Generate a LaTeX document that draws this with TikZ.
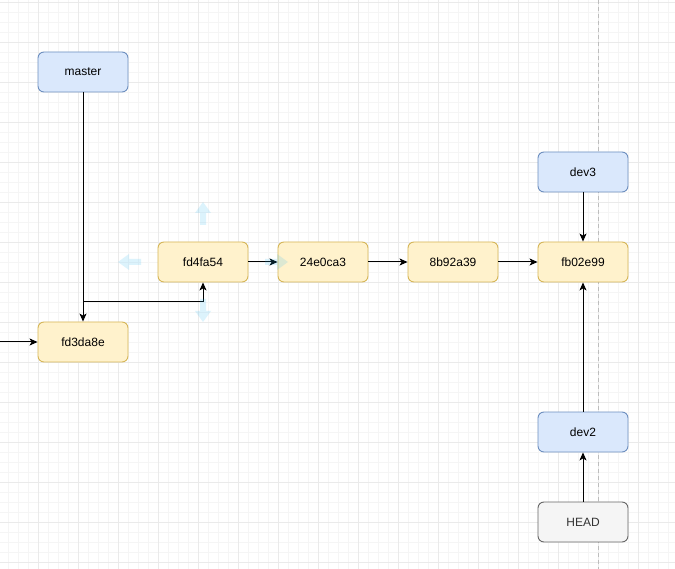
\documentclass[tikz,border=0pt]{standalone}
\usepackage{fontspec}
\setmainfont{Liberation Sans}
\usetikzlibrary{arrows.meta}
\definecolor{yfill}{HTML}{FFF2CC}
\definecolor{ydraw}{HTML}{D6B656}
\definecolor{bfill}{HTML}{DAE8FC}
\definecolor{bdraw}{HTML}{6C8EBF}
\definecolor{gfill}{HTML}{F5F5F5}
\definecolor{gdraw}{HTML}{666666}
\definecolor{gtext}{HTML}{333333}
\definecolor{minorc}{HTML}{F5F5F5}
\definecolor{majorc}{HTML}{EAEAEA}
\definecolor{hoverc}{HTML}{29B6F2}
\definecolor{dashc}{HTML}{BDBDBD}
\tikzset{
  box/.style={rounded corners=6pt, minimum width=90pt, minimum height=40pt, inner sep=0pt, line width=0.9pt, font=\fontsize{12}{14}\selectfont},
  commit/.style={box, fill=yfill, draw=ydraw},
  branch/.style={box, fill=bfill, draw=bdraw},
  headbox/.style={box, fill=gfill, draw=gdraw, text=gtext},
  edge/.style={line width=1pt, -{Stealth[length=8pt,width=7pt,inset=2pt]}},
  minorgrid/.style={minorc, line width=0.8pt},
  majorgrid/.style={majorc, line width=0.8pt},
  hover/.style={fill=hoverc, fill opacity=0.16}
}
\begin{document}
\begin{tikzpicture}[x=1pt,y=-1pt]
\useasboundingbox (0,0) rectangle (675,569);
\fill[white] (0,0) rectangle (675,569);
\foreach \x in {8,18,...,668} \draw[minorgrid] (\x,0) -- (\x,569);
\foreach \y in {2,12,...,562} \draw[minorgrid] (0,\y) -- (675,\y);
\foreach \x in {38,78,...,638} \draw[majorgrid] (\x,0) -- (\x,569);
\foreach \y in {2,42,...,562} \draw[majorgrid] (0,\y) -- (675,\y);
\draw[dashc, line width=0.9pt, dash pattern=on 4pt off 3pt] (598,0) -- (598,569);

\node[branch] (master) at (83,72) {master};
\node[commit] (fd3) at (83,342) {fd3da8e};
\node[commit] (fd4) at (203,262) {fd4fa54};
\node[commit] (c24) at (323,262) {24e0ca3};
\node[commit] (c8b) at (453,262) {8b92a39};
\node[commit] (fb0) at (583,262) {fb02e99};
\node[branch] (dev3) at (583,172) {dev3};
\node[branch] (dev2) at (583,432) {dev2};
\node[headbox] (head) at (583,522) {HEAD};

\coordinate (j) at (83,302);
\coordinate (in) at (0,342);
\draw[edge] (master) -- (fd3);
\draw[edge] (j) -| (fd4);
\draw[edge] (in) -- (fd3);
\draw[edge] (fd4) -- (c24);
\draw[edge] (c24) -- (c8b);
\draw[edge] (c8b) -- (fb0);
\draw[edge] (dev3) -- (fb0);
\draw[edge] (dev2) -- (fb0);
\draw[edge] (head) -- (dev2);

% hover arrows around fd4fa54
\fill[hover] (203,202) -- ++(8,11) -- ++(-5,0) -- ++(0,12) -- ++(-6,0) -- ++(0,-12) -- ++(-5,0) -- cycle;
\fill[hover] (203,322) -- ++(8,-11) -- ++(-5,0) -- ++(0,-12) -- ++(-6,0) -- ++(0,12) -- ++(-5,0) -- cycle;
\fill[hover] (118,262) -- ++(11,-8) -- ++(0,5) -- ++(12,0) -- ++(0,6) -- ++(-12,0) -- ++(0,5) -- cycle;
\fill[hover] (288,262) -- ++(-11,-8) -- ++(0,5) -- ++(-12,0) -- ++(0,6) -- ++(12,0) -- ++(0,5) -- cycle;
\end{tikzpicture}
\end{document}
